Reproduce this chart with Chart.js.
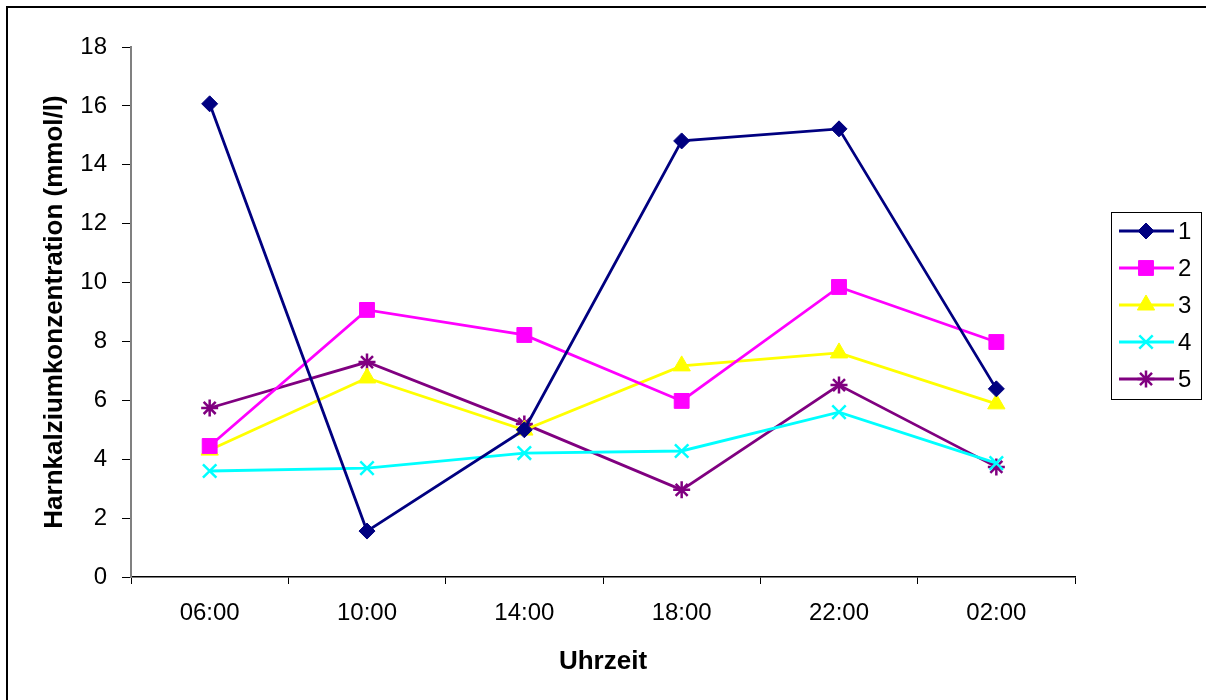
<!DOCTYPE html>
<html>
<head>
<meta charset="utf-8">
<script src="https://cdn.jsdelivr.net/npm/chart.js@4"></script>
<style>
  html, body { margin: 0; padding: 0; background: #fff; }
  #wrap { position: relative; width: 1206px; height: 700px; }
</style>
</head>
<body>
<div id="wrap"><canvas id="chart1" width="1206" height="700"></canvas></div>
<script>
const uhrzeiten = ['06:00', '10:00', '14:00', '18:00', '22:00', '02:00'];
const reihe1 = [16.07, 1.56, 5.0, 14.81, 15.22, 6.39];
const reihe2 = [4.45, 9.07, 8.22, 5.98, 9.85, 7.98];
const reihe3 = [4.31, 6.76, 4.99, 7.17, 7.61, 5.88];
const reihe4 = [3.6, 3.7, 4.21, 4.28, 5.6, 3.87];
const reihe5 = [5.74, 7.3, 5.2, 2.96, 6.52, 3.74];
const namen = ['1', '2', '3', '4', '5'];
const farben = ['#000080', '#ff00ff', '#ffff00', '#00ffff', '#800080'];
const symbole = ['rectRot', 'rect', 'triangle', 'crossRot', 'star'];
const radien = [8, 10.5, 10, 9.5, 8.5];

const FONT = '"Liberation Sans", Arial, sans-serif';

const reihen = [reihe1, reihe2, reihe3, reihe4, reihe5];
const datasets = reihen.map((werte, i) => ({
  label: namen[i],
  data: werte,
  borderColor: farben[i],
  backgroundColor: farben[i],
  borderWidth: 2.8,
  pointStyle: symbole[i],
  pointRadius: radien[i],
  pointBorderWidth: (symbole[i] === 'crossRot' || symbole[i] === 'star') ? 2.5 : 1,
  pointBorderColor: farben[i],
  pointBackgroundColor: farben[i],
  tension: 0
}));

// Rahmen oben/links und Legende im Kasten rechts
const rahmenUndLegende = {
  id: 'rahmenUndLegende',
  beforeDraw(chart) {
    const c = chart.ctx;
    c.save();
    c.fillStyle = '#fff';
    c.fillRect(0, 0, chart.width, chart.height);
    c.strokeStyle = '#000';
    c.lineWidth = 2;
    c.beginPath();
    c.moveTo(7, chart.height);
    c.lineTo(7, 7);
    c.lineTo(chart.width, 7);
    c.stroke();
    c.restore();
  },
  afterDraw(chart) {
    const c = chart.ctx;
    const x0 = 1111, y0 = 212, w = 90, zeile = 37;
    c.save();
    c.strokeStyle = '#000';
    c.lineWidth = 1;
    c.strokeRect(x0 + 0.5, y0 + 0.5, w, zeile * chart.data.datasets.length + 2);
    chart.data.datasets.forEach((ds, i) => {
      const y = y0 + 19 + i * zeile;
      c.strokeStyle = ds.borderColor;
      c.lineWidth = 2.8;
      c.beginPath();
      c.moveTo(x0 + 8, y);
      c.lineTo(x0 + 63, y);
      c.stroke();
      c.fillStyle = ds.backgroundColor;
      c.lineWidth = ds.pointBorderWidth;
      Chart.helpers.drawPoint(c, { pointStyle: ds.pointStyle, radius: ds.pointRadius, borderWidth: ds.pointBorderWidth }, x0 + 35, y);
      c.fillStyle = '#000';
      c.font = '24px ' + FONT;
      c.textBaseline = 'middle';
      c.fillText(ds.label, x0 + 67, y + 1);
    });
    c.restore();
  }
};

new Chart(document.getElementById('chart1'), {
  type: 'line',
  data: { labels: uhrzeiten, datasets: datasets },
  plugins: [rahmenUndLegende],
  options: {
    responsive: false,
    animation: false,
    layout: { padding: { top: 47, right: 131, left: 0, bottom: 0 } },
    plugins: { legend: { display: false }, tooltip: { enabled: false } },
    scales: {
      x: {
        offset: true,
        grid: { offset: true, drawOnChartArea: false, color: '#000', tickLength: 7, lineWidth: 1 },
        border: { color: '#000', width: 1.5 },
        ticks: { color: '#000', font: { family: FONT, size: 24 }, padding: 15, maxRotation: 0 },
        title: { display: true, text: 'Uhrzeit', color: '#000', font: { family: FONT, size: 26, weight: 'bold' }, padding: { top: 0, bottom: 23 } },
        afterFit(s) { s.height = 123; }
      },
      y: {
        min: 0, max: 18,
        ticks: { stepSize: 2, color: '#000', font: { family: FONT, size: 24 }, padding: 15 },
        grid: { drawOnChartArea: false, color: '#000', tickLength: 9, lineWidth: 1 },
        border: { color: '#808080', width: 2 },
        title: { display: true, text: 'Harnkalziumkonzentration (mmol/l)', color: '#000', font: { family: FONT, size: 26, weight: 'bold' }, padding: { top: 39, bottom: 0 } },
        afterFit(s) { s.width = 131; }
      }
    }
  }
});
</script>
</body>
</html>
